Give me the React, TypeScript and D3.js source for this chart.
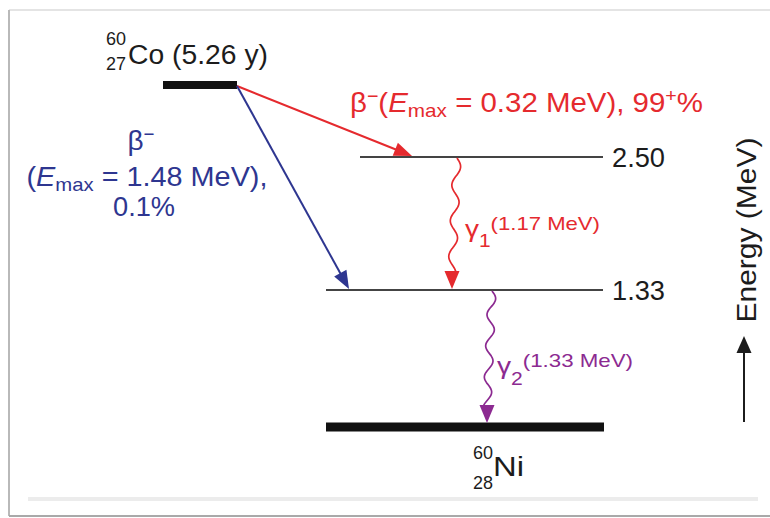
import React from 'react';
import * as d3 from 'd3';

// energy levels of the 60Co -> 60Ni decay scheme (MeV)
const levelKeys = ['co60', 'ni2505', 'ni1333', 'ni60'];
const levelEnergies = [2.82, 2.5, 1.33, 0];
const levelTicks = ['', '2.50', '1.33', ''];
const levelThick = [true, false, false, true];

// decay branches
const betaFrom = ['co60', 'co60'];
const betaTo = ['ni2505', 'ni1333'];
const betaEmax = ['0.32', '1.48'];
const betaShare = ['99', '0.1%'];

const gammaFrom = ['ni2505', 'ni1333'];
const gammaTo = ['ni1333', 'ni60'];
const gammaIndex = ['1', '2'];
const gammaEnergy = ['1.17', '1.33'];

const RED = '#e52a2e';
const BLUE = '#2e3690';
const PURPLE = '#8c2a91';
const INK = '#1c1c1c';
const FONT = '"Liberation Sans", Arial, sans-serif';

const W = 770;
const H = 518;

type Pt = [number, number];

function arrowHead(tip: Pt, from: Pt, len: number, half: number) {
    const dx = tip[0] - from[0];
    const dy = tip[1] - from[1];
    const d = Math.hypot(dx, dy) || 1;
    const ux = dx / d;
    const uy = dy / d;
    const bx = tip[0] - ux * len;
    const by = tip[1] - uy * len;
    return `M${tip[0]},${tip[1]}L${bx - uy * half},${by + ux * half}L${bx + uy * half},${by - ux * half}Z`;
}

function wavePath(x0: number, y0: number, x1: number, y1: number, periods: number, amp: number) {
    const pts: Pt[] = d3.range(0, 1.0001, 1 / 120).map((t) => [
        x0 + (x1 - x0) * t + amp * Math.sin(2 * Math.PI * periods * t),
        y0 + (y1 - y0) * t,
    ]);
    return d3.line().curve(d3.curveBasis)(pts) || '';
}

export default function App() {
    const y = d3.scaleLinear().domain([0, 1.33, 2.5, 2.82]).range([427, 290, 157, 85]);
    const energyOf = (k: string) => levelEnergies[levelKeys.indexOf(k)];

    // horizontal extents of each level line
    const xSpan: Record<string, [number, number]> = {
        co60: [163, 237],
        ni2505: [360, 603],
        ni1333: [326, 603],
        ni60: [326, 604],
    };

    const betaStart: Pt = [237, y(energyOf('co60')) + 1];
    const betaTip: Pt[] = [
        [412, y(energyOf(betaTo[0])) - 1],
        [349, y(energyOf(betaTo[1])) - 1],
    ];
    const betaColor = [RED, BLUE];

    const gammaX: [number, number][] = [
        [457, 452],
        [492, 487],
    ];
    const gammaColor = [RED, PURPLE];

    return (
        <svg
            width={W}
            height={H}
            viewBox={`0 0 ${W} ${H}`}
            style={{ position: 'absolute', left: 0, top: 0, background: '#fff' }}
            fontFamily={FONT}
        >
            {/* frame */}
            <line x1={9} x2={W} y1={10} y2={10} stroke="#e4e4e4" strokeWidth={2} />
            <line x1={9} x2={9} y1={10} y2={516} stroke="#b9b9b9" strokeWidth={2} />
            <line x1={9} x2={W} y1={516} y2={516} stroke="#a9a9a9" strokeWidth={2} />
            <line x1={28} x2={758} y1={499} y2={499} stroke="#ececec" strokeWidth={4} />

            {/* levels */}
            {levelKeys.map((k, i) => {
                const [xa, xb] = xSpan[k];
                const yy = y(levelEnergies[i]);
                return (
                    <g key={k}>
                        <line
                            x1={xa}
                            x2={xb}
                            y1={yy}
                            y2={yy}
                            stroke={levelThick[i] ? '#111' : '#444'}
                            strokeWidth={levelThick[i] ? (i === 0 ? 8 : 9) : 2}
                        />
                        {levelTicks[i] ? (
                            <text x={xb + 9} y={yy + 10} fontSize={28} fill={INK} textLength={53} lengthAdjust="spacingAndGlyphs">
                                {levelTicks[i]}
                            </text>
                        ) : null}
                    </g>
                );
            })}

            {/* beta branches */}
            {betaFrom.map((k, i) => {
                const tip = betaTip[i];
                const dx = tip[0] - betaStart[0];
                const dy = tip[1] - betaStart[1];
                const d = Math.hypot(dx, dy);
                const end: Pt = [tip[0] - (dx / d) * 12, tip[1] - (dy / d) * 12];
                return (
                    <g key={`beta-${i}`}>
                        <line
                            x1={betaStart[0]}
                            y1={betaStart[1]}
                            x2={end[0]}
                            y2={end[1]}
                            stroke={betaColor[i]}
                            strokeWidth={2}
                        />
                        <path d={arrowHead(tip, betaStart, 18, 7)} fill={betaColor[i]} />
                    </g>
                );
            })}

            {/* gamma transitions */}
            {gammaFrom.map((k, i) => {
                const y0 = y(energyOf(k)) + 1;
                const tipY = y(energyOf(gammaTo[i])) - (i === 1 ? 4 : 1);
                const baseY = tipY - 17;
                const [xs, xe] = gammaX[i];
                return (
                    <g key={`gamma-${i}`}>
                        <path
                            d={wavePath(xs, y0, xe, baseY + 2, i === 0 ? 3.25 : 3.75, 4)}
                            fill="none"
                            stroke={gammaColor[i]}
                            strokeWidth={1.7}
                        />
                        <path d={arrowHead([xe, tipY], [xe, baseY], 18, 7.5)} fill={gammaColor[i]} />
                    </g>
                );
            })}

            {/* 60Co label */}
            <text x={106} y={45} fontSize={18} fill={INK}>60</text>
            <text x={106} y={70} fontSize={18} fill={INK}>27</text>
            <text x={128} y={64} fontSize={27} fill={INK} textLength={140} lengthAdjust="spacingAndGlyphs">
                Co (5.26 y)
            </text>

            {/* 60Ni label */}
            <text x={473} y={459} fontSize={19} fill={INK} textLength={20} lengthAdjust="spacingAndGlyphs">60</text>
            <text x={473} y={489} fontSize={19} fill={INK} textLength={20} lengthAdjust="spacingAndGlyphs">28</text>
            <text x={493} y={476} fontSize={27} fill={INK} textLength={31} lengthAdjust="spacingAndGlyphs">
                Ni
            </text>

            {/* main beta label */}
            <text x={350} y={112} fontSize={27} fill={RED} textLength={353} lengthAdjust="spacingAndGlyphs">
                <tspan>β</tspan>
                <tspan fontSize={18} dy={-10}>−</tspan>
                <tspan dy={10}>(</tspan>
                <tspan fontStyle="italic">E</tspan>
                <tspan fontSize={19} dy={5}>max</tspan>
                <tspan dy={-5}>{` = ${betaEmax[0]} MeV), ${betaShare[0]}`}</tspan>
                <tspan fontSize={18} dy={-10}>+</tspan>
                <tspan dy={10}>%</tspan>
            </text>

            {/* minor beta label */}
            <text x={141} y={150} fontSize={27} fill={BLUE} textAnchor="middle" textLength={27} lengthAdjust="spacingAndGlyphs">
                <tspan>β</tspan>
                <tspan fontSize={18} dy={-10}>−</tspan>
            </text>
            <text x={147} y={186} fontSize={27} fill={BLUE} textAnchor="middle" textLength={241} lengthAdjust="spacingAndGlyphs">
                <tspan>(</tspan>
                <tspan fontStyle="italic">E</tspan>
                <tspan fontSize={19} dy={5}>max</tspan>
                <tspan dy={-5}>{` = ${betaEmax[1]} MeV),`}</tspan>
            </text>
            <text x={144} y={216} fontSize={27} fill={BLUE} textAnchor="middle" textLength={62} lengthAdjust="spacingAndGlyphs">
                {betaShare[1]}
            </text>

            {/* gamma labels */}
            <text x={465} y={237} fontSize={24} fill={RED} textLength={135} lengthAdjust="spacingAndGlyphs">
                <tspan>γ</tspan>
                <tspan fontSize={18} dy={10}>{gammaIndex[0]}</tspan>
                <tspan fontSize={19} dy={-17}>{`(${gammaEnergy[0]} MeV)`}</tspan>
            </text>
            <text x={497} y={374} fontSize={24} fill={PURPLE} textLength={136} lengthAdjust="spacingAndGlyphs">
                <tspan>γ</tspan>
                <tspan fontSize={18} dy={11}>{gammaIndex[1]}</tspan>
                <tspan fontSize={19} dy={-18}>{`(${gammaEnergy[1]} MeV)`}</tspan>
            </text>

            {/* energy axis */}
            <line x1={744} x2={744} y1={422} y2={350} stroke={INK} strokeWidth={2} />
            <path d={arrowHead([744, 336], [744, 422], 17, 7.5)} fill={INK} />
            <text
                transform="translate(756,230) rotate(-90)"
                textAnchor="middle"
                fontSize={28}
                fill={INK}
                textLength={185}
                lengthAdjust="spacingAndGlyphs"
            >
                Energy (MeV)
            </text>
        </svg>
    );
}
